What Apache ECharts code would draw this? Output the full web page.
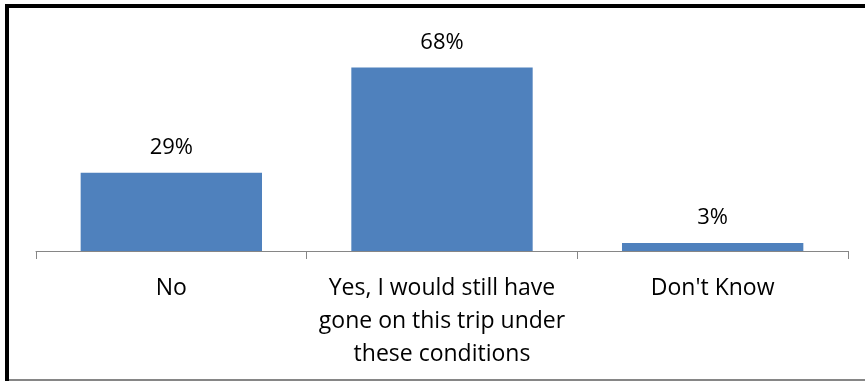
<!DOCTYPE html>
<html>
<head>
<meta charset="utf-8">
<script src="https://cdn.jsdelivr.net/npm/echarts@6/dist/echarts.min.js"></script>
<style>
html,body{margin:0;padding:0;background:#fff;}
#chart{width:865px;height:381px;}
</style>
</head>
<body>
<div id="chart"></div>
<script>
const categories = ["No", "Yes, I would still have\ngone on this trip under\nthese conditions", "Don't Know"];
const values = [29, 68, 3];

const chart = echarts.init(document.getElementById('chart'), null, {renderer: 'canvas'});
chart.setOption({
  animation: false,
  backgroundColor: '#ffffff',
  grid: {left: 36, right: 17, top: 35, bottom: 130, containLabel: false},
  xAxis: {
    type: 'category',
    data: categories,
    boundaryGap: true,
    axisLine: {show: true, lineStyle: {color: '#868686', width: 1}},
    axisTick: {show: true, alignWithLabel: false, length: 8, lineStyle: {color: '#868686'}},
    axisLabel: {
      interval: 0,
      color: '#000',
      fontFamily: 'Open Sans',
      fontSize: 23,
      lineHeight: 33,
      margin: 21
    }
  },
  yAxis: {
    type: 'value',
    min: 0,
    max: 80,
    show: false,
    splitLine: {show: false}
  },
  series: [{
    type: 'bar',
    data: values,
    barCategoryGap: '33%',
    itemStyle: {color: '#4F81BD'},
    label: {
      show: true,
      position: 'top',
      distance: 14,
      formatter: '{c}%',
      color: '#000',
      fontFamily: 'Open Sans',
      fontSize: 22
    }
  }],
  graphic: [
    {type: 'rect', shape: {x: 5, y: 4, width: 860, height: 4}, style: {fill: '#000'}, silent: true},
    {type: 'rect', shape: {x: 5, y: 4, width: 4, height: 377}, style: {fill: '#000'}, silent: true},
    {type: 'rect', shape: {x: 9, y: 379, width: 856, height: 2}, style: {fill: '#868686'}, silent: true}
  ]
});
</script>
</body>
</html>
